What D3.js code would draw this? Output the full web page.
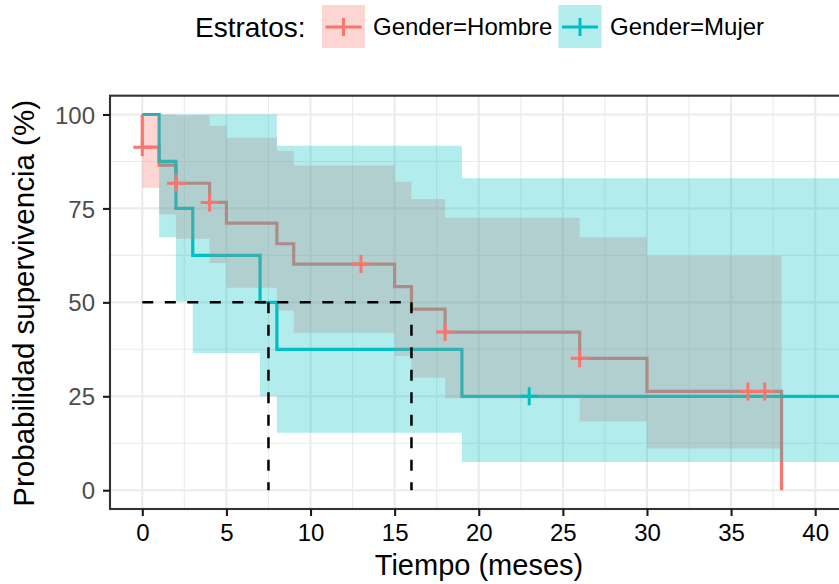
<!DOCTYPE html>
<html>
<head>
<meta charset="utf-8">
<script src="https://cdn.jsdelivr.net/npm/d3@7"></script>
<style>
  body { margin: 0; background: #ffffff; }
  svg { display: block; }
</style>
</head>
<body>
<svg id="chart" width="839" height="584"></svg>
<script>
// Kaplan–Meier survival (%) by gender, with 95% confidence band
const strata = ["Gender=Hombre", "Gender=Mujer"];
const strataColors = ["#F8766D", "#00BFC4"];

const hombreTime  = [0, 0, 1, 2, 4, 5, 8, 9, 15, 16, 18, 26, 30, 38];
const hombreSurv  = [100, 91.3, 86.5, 81.7, 76.6, 71.1, 65.6, 60.2, 54.2, 48.2, 42.1, 35.1, 26.3, 0];
const hombreLower = [100, 80.5, 73.4, 66.9, 60.5, 53.9, 47.8, 41.9, 35.7, 29.9, 24.5, 18.3, 11.1, null];
const hombreUpper = [100, 100, 100, 99.7, 97.0, 93.8, 90.3, 86.4, 82.1, 77.5, 72.5, 67.3, 62.4, null];
const hombreCensorTime = [0, 2, 4, 13, 18, 26, 36, 37];
const hombreCensorSurv = [91.3, 81.7, 76.6, 60.2, 42.1, 35.1, 26.3, 26.3];

// last entry is the end of follow-up (outside the visible range)
const mujerTime  = [0, 1, 2, 3, 7, 8, 19, 44];
const mujerSurv  = [100, 87.5, 75, 62.5, 50, 37.5, 25, 25];
const mujerLower = [100, 67.3, 50.3, 36.5, 25.0, 15.3, 7.5, 7.5];
const mujerUpper = [100, 100, 100, 100, 100, 91.7, 83.0, 83.0];
const mujerCensorTime = [23];
const mujerCensorSurv = [25];

// median survival times (dashed guides at 50%)
const medianTimes = [7.5, 16];
const medianLevel = 50;

const xTicks = [0, 5, 10, 15, 20, 25, 30, 35, 40];
const xMinor = [2.5, 7.5, 12.5, 17.5, 22.5, 27.5, 32.5, 37.5];
const yTicks = [0, 25, 50, 75, 100];
const yMinor = [12.5, 37.5, 62.5, 87.5];

const font = "'Liberation Sans', Arial, Helvetica, sans-serif";
const svg = d3.select("#chart");

const panel = { left: 110, right: 848, top: 95.7, bottom: 509 };
const x = d3.scaleLinear().domain([-1.92, 41.95]).range([panel.left, panel.right]);
const y = d3.scaleLinear().domain([-5, 105]).range([panel.bottom, panel.top]);

svg.append("defs").append("clipPath").attr("id", "panelClip")
  .append("rect")
  .attr("x", panel.left).attr("y", panel.top)
  .attr("width", panel.right - panel.left).attr("height", panel.bottom - panel.top);

// grid
const grid = svg.append("g");
grid.selectAll(".xmin").data(xMinor).join("line")
  .attr("x1", d => x(d)).attr("x2", d => x(d))
  .attr("y1", panel.top).attr("y2", panel.bottom)
  .attr("stroke", "#EBEBEB").attr("stroke-width", 1.1);
grid.selectAll(".ymin").data(yMinor).join("line")
  .attr("y1", d => y(d)).attr("y2", d => y(d))
  .attr("x1", panel.left).attr("x2", panel.right)
  .attr("stroke", "#EBEBEB").attr("stroke-width", 1.1);
grid.selectAll(".xmaj").data(xTicks).join("line")
  .attr("x1", d => x(d)).attr("x2", d => x(d))
  .attr("y1", panel.top).attr("y2", panel.bottom)
  .attr("stroke", "#EBEBEB").attr("stroke-width", 2.1);
grid.selectAll(".ymaj").data(yTicks).join("line")
  .attr("y1", d => y(d)).attr("y2", d => y(d))
  .attr("x1", panel.left).attr("x2", panel.right)
  .attr("stroke", "#EBEBEB").attr("stroke-width", 2.1);

const plot = svg.append("g").attr("clip-path", "url(#panelClip)");

function curvePoints(time, surv) {
  return time.map((t, i) => ({ t, s: surv[i] }));
}
// band stops where the estimate has no interval
function bandPoints(time, lower, upper) {
  const pts = [];
  let last = null;
  for (let i = 0; i < time.length; i++) {
    if (lower[i] == null) {
      if (last) pts.push({ t: time[i], lo: last.lo, hi: last.hi });
      break;
    }
    last = { t: time[i], lo: lower[i], hi: upper[i] };
    pts.push(last);
  }
  return pts;
}

const series = [
  { curve: curvePoints(hombreTime, hombreSurv), band: bandPoints(hombreTime, hombreLower, hombreUpper),
    censor: curvePoints(hombreCensorTime, hombreCensorSurv), color: strataColors[0] },
  { curve: curvePoints(mujerTime, mujerSurv), band: bandPoints(mujerTime, mujerLower, mujerUpper),
    censor: curvePoints(mujerCensorTime, mujerCensorSurv), color: strataColors[1] }
];

const stepLine = d3.line().x(d => x(d.t)).y(d => y(d.s)).curve(d3.curveStepAfter);
const stepArea = d3.area().x(d => x(d.t)).y0(d => y(d.lo)).y1(d => y(d.hi)).curve(d3.curveStepAfter);

// survival steps
series.forEach(s => {
  plot.append("path").attr("d", stepLine(s.curve))
    .attr("fill", "none").attr("stroke", s.color).attr("stroke-width", 3.2);
});
// confidence ribbons
series.forEach(s => {
  plot.append("path").attr("d", stepArea(s.band))
    .attr("fill", s.color).attr("fill-opacity", 0.3);
});
// censoring marks
const half = 9;
series.forEach(s => {
  const g = plot.append("g");
  g.selectAll("path").data(s.censor).join("path")
    .attr("d", d => `M${x(d.t) - half},${y(d.s)}H${x(d.t) + half}M${x(d.t)},${y(d.s) - half}V${y(d.s) + half}`)
    .attr("stroke", s.color).attr("stroke-width", 3).attr("fill", "none");
});

// median guides
const guides = plot.append("g").attr("stroke", "#000").attr("stroke-width", 2.5)
  .attr("stroke-dasharray", "11,11.5").attr("fill", "none");
guides.append("line")
  .attr("x1", x(0)).attr("x2", x(d3.max(medianTimes)))
  .attr("y1", y(medianLevel)).attr("y2", y(medianLevel));
guides.selectAll(".v").data(medianTimes).join("line")
  .attr("x1", d => x(d)).attr("x2", d => x(d))
  .attr("y1", y(medianLevel)).attr("y2", y(0));

// panel border
svg.append("rect")
  .attr("x", panel.left).attr("y", panel.top)
  .attr("width", panel.right - panel.left).attr("height", panel.bottom - panel.top)
  .attr("fill", "none").attr("stroke", "#333333").attr("stroke-width", 2.1);

// axes
const xAxis = svg.append("g").attr("transform", `translate(0,${panel.bottom})`)
  .call(d3.axisBottom(x).tickValues(xTicks).tickSize(7).tickPadding(7.5));
xAxis.select(".domain").remove();
xAxis.selectAll(".tick line").attr("stroke", "#1a1a1a").attr("stroke-width", 2.1);
xAxis.selectAll(".tick text").attr("fill", "#000").attr("font-family", font).attr("font-size", 24);

const yAxis = svg.append("g").attr("transform", `translate(${panel.left},0)`)
  .call(d3.axisLeft(y).tickValues(yTicks).tickSize(7).tickPadding(8));
yAxis.select(".domain").remove();
yAxis.selectAll(".tick line").attr("stroke", "#1a1a1a").attr("stroke-width", 2.1);
yAxis.selectAll(".tick text").attr("fill", "#4D4D4D").attr("font-family", font).attr("font-size", 24)
  .attr("dy", "0.36em");

// axis titles
svg.append("text")
  .attr("x", (panel.left + panel.right) / 2).attr("y", 574.5)
  .attr("text-anchor", "middle").attr("font-family", font).attr("font-size", 29)
  .attr("fill", "#000").text("Tiempo (meses)");
svg.append("text")
  .attr("transform", `translate(33.5,${(panel.top + panel.bottom) / 2 + 1}) rotate(-90)`)
  .attr("text-anchor", "middle").attr("font-family", font).attr("font-size", 29.5)
  .attr("fill", "#000").text("Probabilidad supervivencia (%)");

// legend
const legend = svg.append("g");
legend.append("text").attr("x", 195).attr("y", 36.7)
  .attr("font-family", font).attr("font-size", 28).attr("fill", "#000").text("Estratos:");
const keyX = [322, 558.5];
const labelX = [373, 610];
strata.forEach((name, i) => {
  const kx = keyX[i], ky = 5, ks = 43;
  const cy = ky + ks / 2 + 0.5, cx = kx + ks / 2;
  legend.append("rect").attr("x", kx).attr("y", ky).attr("width", ks).attr("height", ks)
    .attr("fill", strataColors[i]).attr("fill-opacity", 0.3);
  legend.append("line").attr("x1", kx + 3.5).attr("x2", kx + ks - 3.5)
    .attr("y1", cy).attr("y2", cy).attr("stroke", strataColors[i]).attr("stroke-width", 3);
  legend.append("line").attr("x1", cx).attr("x2", cx)
    .attr("y1", cy - half).attr("y2", cy + half).attr("stroke", strataColors[i]).attr("stroke-width", 3);
  legend.append("text").attr("x", labelX[i]).attr("y", 35)
    .attr("font-family", font).attr("font-size", 24).attr("fill", "#000").text(name);
});
</script>
</body>
</html>
